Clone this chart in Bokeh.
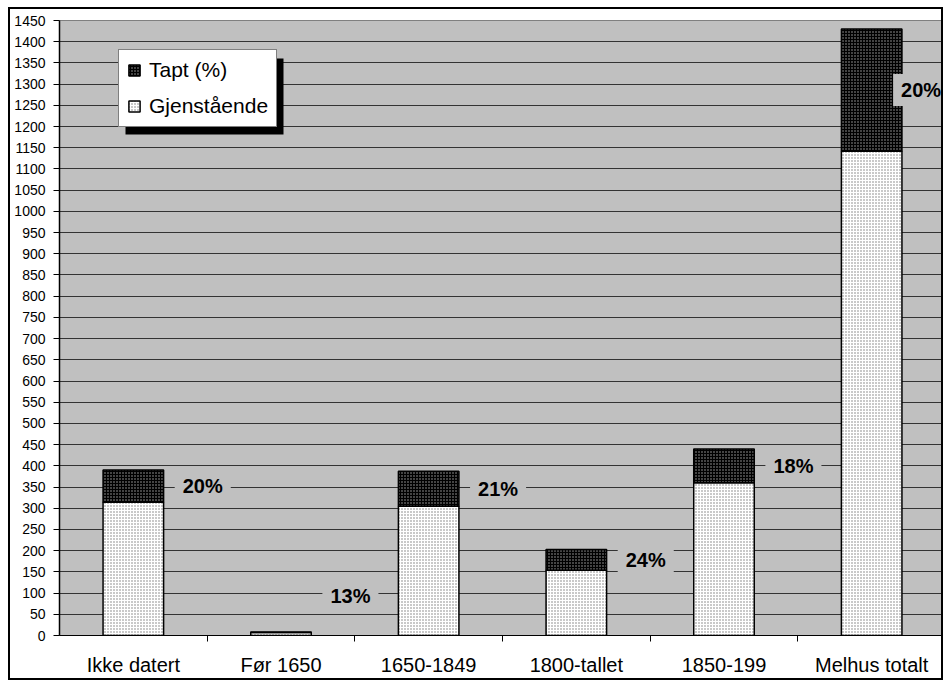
from bokeh.plotting import figure
from bokeh.models import ColumnDataSource, FixedTicker, Legend, LegendItem, BoxAnnotation, Range1d
from bokeh.core.properties import value
from bokeh.embed import file_html
from bokeh.resources import INLINE

categories = ["Ikke datert", "Før 1650", "1650-1849", "1800-tallet", "1850-199", "Melhus totalt"]
gjenstaende = [314, 7, 305, 154, 360, 1142]
tapt = [76, 1, 82, 49, 80, 288]
pct_labels = ["20%", "13%", "21%", "24%", "18%", "20%"]
y_ticks = list(range(0, 1451, 50))

FONT = "Liberation Sans"
n = len(categories)
xs = [i + 0.5 for i in range(n)]
totals = [g + t for g, t in zip(gjenstaende, tapt)]
label_x = [min(x + 0.47, n - 0.165) for x in xs]
label_y = [max(g + t / 2, 94) for g, t in zip(gjenstaende, tapt)]

src = ColumnDataSource(dict(x=xs, g=gjenstaende, total=totals,
                            lx=label_x, ly=label_y, pct=pct_labels))

p = figure(width=935, height=673, x_range=Range1d(0, n), y_range=Range1d(0, 1450),
           output_backend="svg", toolbar_location=None,
           min_border_left=49, min_border_top=11, min_border_bottom=47, min_border_right=0)
p.margin = (7, 0, 0, 8)
p.styles = {"border": "2px solid black"}
p.background_fill_color = "#C0C0C0"
p.border_fill_color = "white"
p.outline_line_color = "#808080"
p.outline_line_width = 1

p.xgrid.visible = False
p.ygrid.grid_line_color = "#333333"
p.ygrid.grid_line_width = 1

r_gj = p.vbar(x="x", width=0.41, bottom=0, top="g", source=src,
              fill_color="white", hatch_pattern="dot", hatch_color="#777777",
              hatch_scale=3, hatch_weight=1, line_color="black", line_width=1.5)
r_tapt = p.vbar(x="x", width=0.41, bottom="g", top="total", source=src,
                fill_color="black", hatch_pattern="dot", hatch_color="#aaaaaa",
                hatch_scale=3, hatch_weight=1, line_color="black", line_width=1.5)

p.text(x="lx", y="ly", text="pct", source=src, text_font=value(FONT),
       text_font_style="bold", text_font_size="20px", text_align="center",
       text_baseline="middle", text_color="black",
       background_fill_color="#C0C0C0", padding=(8, 5))

# x axis
xa = p.xaxis[0]
xa.ticker = FixedTicker(ticks=xs, minor_ticks=list(range(1, n + 1)))
xa.major_label_overrides = {x: c for x, c in zip(xs, categories)}
xa.major_tick_line_color = None
xa.major_tick_out = 6
xa.major_tick_in = 0
xa.minor_tick_line_color = "black"
xa.minor_tick_out = 6
xa.minor_tick_in = 0
xa.axis_line_color = "black"
xa.major_label_text_font = FONT
xa.major_label_text_font_size = "20px"
xa.major_label_text_color = "black"
xa.major_label_standoff = 12

ya = p.yaxis[0]
ya.ticker = FixedTicker(ticks=y_ticks, minor_ticks=[])
ya.major_tick_out = 6
ya.major_tick_in = 0
ya.major_tick_line_color = "black"
ya.axis_line_color = "black"
ya.axis_line_width = 1.5
ya.major_label_text_font = FONT
ya.major_label_text_font_size = "14px"
ya.major_label_text_color = "black"
ya.major_label_standoff = 8

# legend drop shadow (frame-relative screen units, y upward)
shadow = BoxAnnotation(left=66, right=224, top=577, bottom=501,
                       left_units="screen", right_units="screen",
                       top_units="screen", bottom_units="screen",
                       fill_color="black", fill_alpha=1, line_color=None)
p.add_layout(shadow)

legend = Legend(items=[LegendItem(label="Tapt (%)", renderers=[r_tapt]),
                       LegendItem(label="Gjenstående", renderers=[r_gj])],
                location=(59, 508))
legend.label_text_font = FONT
legend.label_text_font_size = "21px"
legend.label_text_color = "black"
legend.glyph_width = 14
legend.glyph_height = 14
legend.label_standoff = 8
legend.padding = 8
legend.spacing = 12
legend.margin = 0
legend.border_line_color = "black"
legend.border_line_width = 1
legend.background_fill_color = "white"
legend.background_fill_alpha = 1
p.add_layout(legend, "center")

open("out.html", "w").write(file_html(p, INLINE))
